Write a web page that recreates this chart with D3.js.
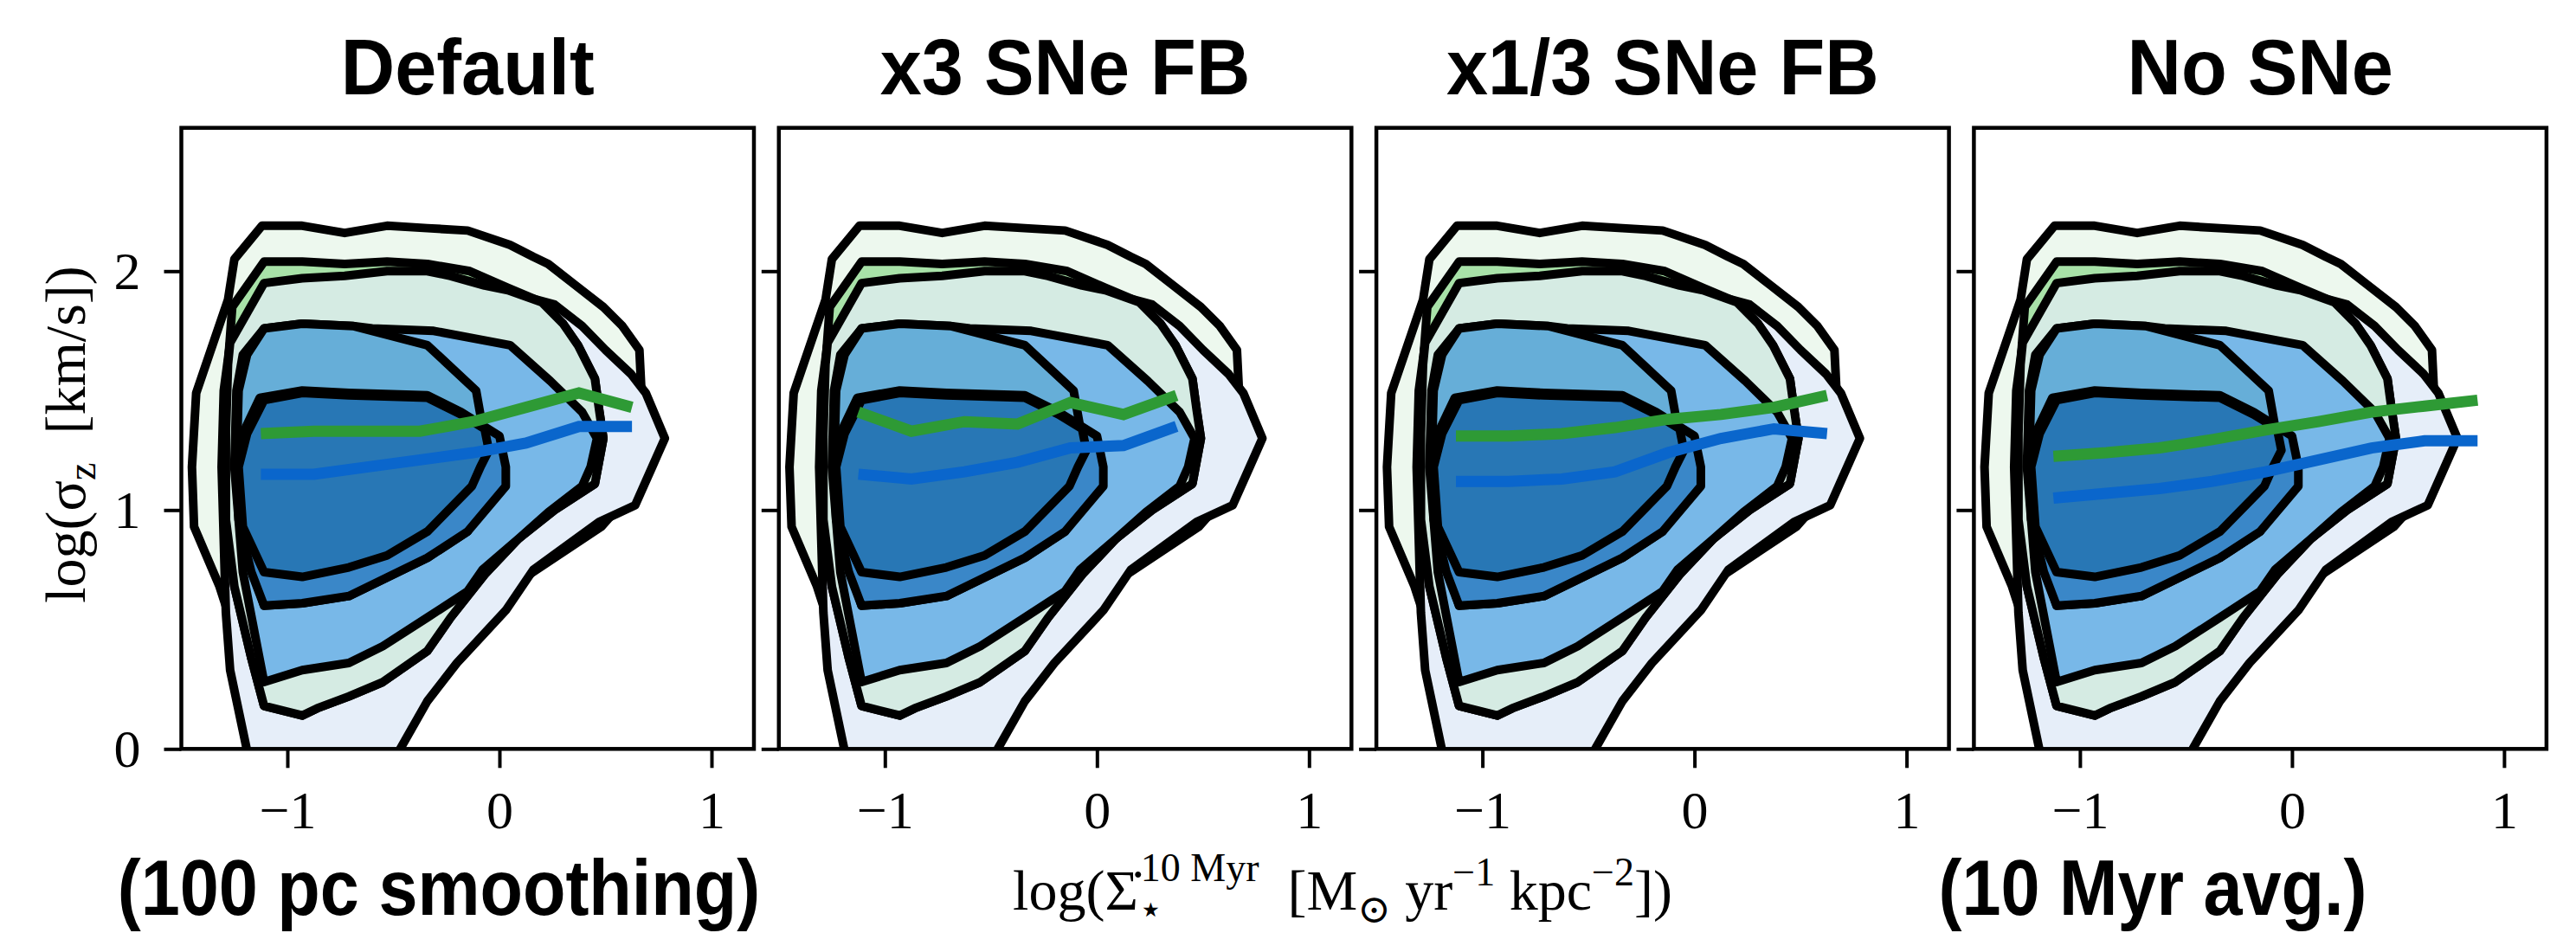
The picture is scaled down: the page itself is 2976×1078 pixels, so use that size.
<!DOCTYPE html>
<html>
<head>
<meta charset="utf-8">
<script src="https://cdn.jsdelivr.net/npm/d3@7"></script>
<style>
  body { margin: 0; background: #fff; }
</style>
</head>
<body>
<svg id="chart" width="2976" height="1078"></svg>
<script>
// ---- data ----------------------------------------------------------
const panelTitles = ['Default', 'x3 SNe FB', 'x1/3 SNe FB', 'No SNe']
const binCenters = [-1.125, -0.875, -0.625, -0.375, -0.125, 0.125, 0.375, 0.625, 0.875]

// running medians of log(sigma_z), one list per panel
const greenMedian = [
  [1.32, 1.33, 1.33, 1.33, 1.37, 1.43, 1.49, 1.43],
  [1.41, 1.33, 1.37, 1.36, 1.45, 1.40, 1.48],
  [1.31, 1.31, 1.32, 1.345, 1.38, 1.40, 1.43, 1.48],
  [1.225, 1.24, 1.26, 1.295, 1.335, 1.37, 1.41, 1.435, 1.46]
]
const blueMedian = [
  [1.15, 1.15, 1.18, 1.21, 1.24, 1.28, 1.35, 1.35],
  [1.15, 1.13, 1.16, 1.20, 1.26, 1.27, 1.35],
  [1.12, 1.12, 1.13, 1.16, 1.24, 1.30, 1.34, 1.32],
  [1.05, 1.07, 1.09, 1.12, 1.16, 1.21, 1.26, 1.29, 1.29]
]

const xTicks = [-1, 0, 1]
const yTicks = [0, 1, 2]

// contour outlines, [log SFR surface density, log sigma_z]
const greenOuter = [[-1.12,2.19],[-0.93,2.19],[-0.73,2.16],[-0.53,2.19],[-0.34,2.18],[-0.15,2.17],[0.05,2.11],[0.16,2.06],[0.23,2.03],[0.36,1.94],[0.49,1.85],[0.58,1.77],[0.66,1.67],[0.67,1.49],[0.69,1.30],[0.65,1.10],[0.48,0.93],[0.09,0.70],[-0.23,0.38],[-0.44,0.13],[-0.53,0.09],[-0.76,-0.05],[-1.18,-0.05],[-1.28,0.57],[-1.32,0.68],[-1.44,0.93],[-1.45,1.18],[-1.43,1.49],[-1.28,1.88],[-1.25,2.05]]
const blueOuter = [[-1.11,1.95],[-0.93,1.97],[-0.73,1.98],[-0.53,2.00],[-0.34,2.00],[-0.23,1.98],[-0.07,1.94],[0.05,1.91],[0.26,1.86],[0.39,1.77],[0.50,1.67],[0.62,1.57],[0.69,1.49],[0.78,1.30],[0.72,1.18],[0.64,1.02],[0.47,0.95],[0.16,0.75],[0.03,0.58],[-0.20,0.36],[-0.34,0.20],[-0.50,-0.05],[-1.18,-0.05],[-1.27,0.33],[-1.29,0.57],[-1.31,1.18],[-1.30,1.50],[-1.27,1.70]]
const greenMid = [[-1.11,2.04],[-0.93,2.04],[-0.73,2.03],[-0.53,2.04],[-0.34,2.03],[-0.14,2.00],[0.04,1.93],[0.20,1.87],[0.30,1.78],[0.37,1.69],[0.45,1.55],[0.47,1.42],[0.49,1.30],[0.45,1.11],[0.26,1.00],[0.09,0.88],[-0.07,0.73],[-0.23,0.55],[-0.34,0.41],[-0.55,0.28],[-0.71,0.22],[-0.86,0.17],[-0.93,0.14],[-1.11,0.18],[-1.17,0.38],[-1.25,0.68],[-1.29,0.96],[-1.29,1.32],[-1.28,1.61],[-1.26,1.85]]
const greenMidOverlap = [[-1.11,1.95],[-0.93,1.97],[-0.73,1.98],[-0.53,2.00],[-0.34,2.00],[-0.23,1.98],[-0.07,1.94],[0.04,1.92],[0.20,1.87],[0.30,1.78],[0.37,1.69],[0.45,1.55],[0.47,1.42],[0.49,1.30],[0.45,1.11],[0.26,1.00],[0.09,0.88],[-0.07,0.73],[-0.23,0.55],[-0.34,0.41],[-0.55,0.28],[-0.71,0.22],[-0.86,0.17],[-0.93,0.14],[-1.11,0.18],[-1.17,0.38],[-1.25,0.68],[-1.29,0.96],[-1.29,1.32],[-1.28,1.61],[-1.27,1.70]]
const blueMid = [[-1.11,1.76],[-0.93,1.78],[-0.69,1.77],[-0.60,1.76],[-0.31,1.75],[0.05,1.69],[0.24,1.54],[0.39,1.41],[0.46,1.30],[0.43,1.18],[0.39,1.10],[0.23,0.99],[0.09,0.88],[-0.08,0.75],[-0.15,0.66],[-0.34,0.55],[-0.55,0.43],[-0.71,0.36],[-0.93,0.33],[-1.11,0.28],[-1.21,0.74],[-1.25,1.18],[-1.24,1.50],[-1.21,1.65]]
const greenInnerOverlap = [[-1.11,1.76],[-0.93,1.78],[-0.69,1.77],[-0.34,1.69],[-0.11,1.50],[-0.07,1.30],[-0.09,1.18],[-0.15,0.91],[-0.34,0.80],[-0.71,0.64],[-0.93,0.61],[-1.11,0.60],[-1.19,0.82],[-1.24,1.18],[-1.23,1.50],[-1.19,1.65]]
const blueInner = [[-1.13,1.47],[-0.93,1.50],[-0.71,1.49],[-0.34,1.48],[-0.18,1.41],[0.00,1.31],[0.03,1.18],[0.03,1.10],[-0.15,0.91],[-0.34,0.80],[-0.71,0.64],[-0.93,0.61],[-1.11,0.60],[-1.17,0.74],[-1.23,0.96],[-1.24,1.18],[-1.21,1.32]]
const blueCore = [[-1.11,1.46],[-0.93,1.49],[-0.71,1.48],[-0.34,1.47],[-0.18,1.40],[-0.07,1.34],[-0.05,1.25],[-0.09,1.18],[-0.13,1.10],[-0.34,0.91],[-0.53,0.81],[-0.71,0.76],[-0.93,0.72],[-1.11,0.74],[-1.21,0.93],[-1.23,1.18],[-1.19,1.32]]

// ---- layout / style ------------------------------------------------
const contourLayers = [
  { pts: greenOuter, fill: '#edf8ee' },
  { pts: blueOuter, fill: '#e6eef9' },
  { pts: greenMid, fill: '#a8e2a8' },
  { pts: greenMidOverlap, fill: '#d5ebe3' },
  { pts: blueMid, fill: '#78b8e8' },
  { pts: greenInnerOverlap, fill: '#66aed8' },
  { pts: blueInner, fill: '#3a87c8' },
  { pts: blueCore, fill: '#2877b5' }
]
const serif = "'Liberation Serif', 'DejaVu Serif', serif"
const sans = "'Liberation Sans', Arial, sans-serif"

const margin = { left: 209.5, top: 147.7 }
const panelW = 661.5
const panelH = 717.6
const panelStep = 690.3

const svg = d3.select('#chart')

const y = d3.scaleLinear().domain([0, 2.6]).range([margin.top + panelH, margin.top])

panelTitles.forEach((title, i) => {
  const left = margin.left + i * panelStep
  const x = d3.scaleLinear().domain([-1.5, 1.2]).range([left, left + panelW])

  svg.append('clipPath').attr('id', 'clip' + i)
    .append('rect')
    .attr('x', left).attr('y', margin.top)
    .attr('width', panelW).attr('height', panelH)

  const g = svg.append('g').attr('clip-path', 'url(#clip' + i + ')')

  const area = d3.line()
    .x(d => x(d[0]))
    .y(d => y(d[1]))
    .curve(d3.curveLinearClosed)

  g.selectAll('path.contour')
    .data(contourLayers)
    .join('path')
    .attr('class', 'contour')
    .attr('d', d => area(d.pts))
    .attr('fill', d => d.fill)
    .attr('stroke', '#000')
    .attr('stroke-width', 10)
    .attr('stroke-linejoin', 'round')

  const line = d3.line()
    .x(d => x(d[0]))
    .y(d => y(d[1]))

  g.append('path')
    .attr('d', line(greenMedian[i].map((v, k) => [binCenters[k], v])))
    .attr('fill', 'none')
    .attr('stroke', '#2e9a35')
    .attr('stroke-width', 13)

  g.append('path')
    .attr('d', line(blueMedian[i].map((v, k) => [binCenters[k], v])))
    .attr('fill', 'none')
    .attr('stroke', '#0a66cc')
    .attr('stroke-width', 13)

  // frame
  svg.append('rect')
    .attr('x', left).attr('y', margin.top)
    .attr('width', panelW).attr('height', panelH)
    .attr('fill', 'none')
    .attr('stroke', '#000')
    .attr('stroke-width', 4.5)

  const xAxis = svg.append('g')
    .attr('transform', 'translate(0,' + (margin.top + panelH) + ')')
    .call(d3.axisBottom(x).tickValues(xTicks).tickSize(22).tickPadding(26).tickFormat(d3.format('d')))
  xAxis.select('.domain').remove()
  xAxis.selectAll('line').attr('stroke-width', 4)
  xAxis.selectAll('text').attr('font-family', serif).attr('font-size', 62).attr('fill', '#000')

  const yAxis = svg.append('g')
    .attr('transform', 'translate(' + left + ',0)')
    .call(d3.axisLeft(y).tickValues(yTicks).tickSize(20).tickPadding(27).tickFormat(d3.format('d')))
  yAxis.select('.domain').remove()
  yAxis.selectAll('line').attr('stroke-width', 4)
  yAxis.selectAll('text')
    .attr('font-family', serif).attr('font-size', 62).attr('fill', '#000')
    .style('display', i === 0 ? null : 'none')

  svg.append('text')
    .attr('transform', 'translate(' + (left + panelW / 2) + ',109) scale(0.95,1)')
    .attr('text-anchor', 'middle')
    .attr('font-family', sans)
    .attr('font-weight', 'bold')
    .attr('font-size', 91)
    .text(title)
})

// bottom notes
svg.append('text')
  .attr('transform', 'translate(507,1057) scale(0.9,1)')
  .attr('text-anchor', 'middle')
  .attr('font-family', sans).attr('font-weight', 'bold').attr('font-size', 90)
  .text('(100 pc smoothing)')
svg.append('text')
  .attr('transform', 'translate(2487,1057) scale(0.9,1)')
  .attr('text-anchor', 'middle')
  .attr('font-family', sans).attr('font-weight', 'bold').attr('font-size', 90)
  .text('(10 Myr avg.)')

// x label
const xl = svg.append('text')
  .attr('x', 1551).attr('y', 1051)
  .attr('text-anchor', 'middle')
  .attr('font-family', serif).attr('font-size', 66)
xl.append('tspan').text('log(\u03A3\u0307')
xl.append('tspan').attr('dy', 15).attr('font-size', 46).text('\u22C6')
xl.append('tspan').attr('dx', -26).attr('dy', -48).attr('font-size', 46).text('10\u00A0Myr')
xl.append('tspan').attr('dy', 33).text('\u00A0\u00A0[M')
xl.append('tspan').attr('dy', 15).attr('font-size', 46).text('\u2299')
xl.append('tspan').attr('dy', -15).text('\u00A0yr')
xl.append('tspan').attr('dy', -28).attr('font-size', 46).text('\u22121')
xl.append('tspan').attr('dy', 28).text('\u00A0kpc')
xl.append('tspan').attr('dy', -28).attr('font-size', 46).text('\u22122')
xl.append('tspan').attr('dy', 28).text('])')

// y label
const yl = svg.append('text')
  .attr('transform', 'translate(98,502) rotate(-90)')
  .attr('text-anchor', 'middle')
  .attr('font-family', serif).attr('font-size', 66)
yl.append('tspan').text('log(\u03C3')
yl.append('tspan').attr('dy', 12).attr('font-size', 46).text('z')
yl.append('tspan').attr('dy', -12).text('\u00A0\u00A0[km/s])')
</script>
</body>
</html>
